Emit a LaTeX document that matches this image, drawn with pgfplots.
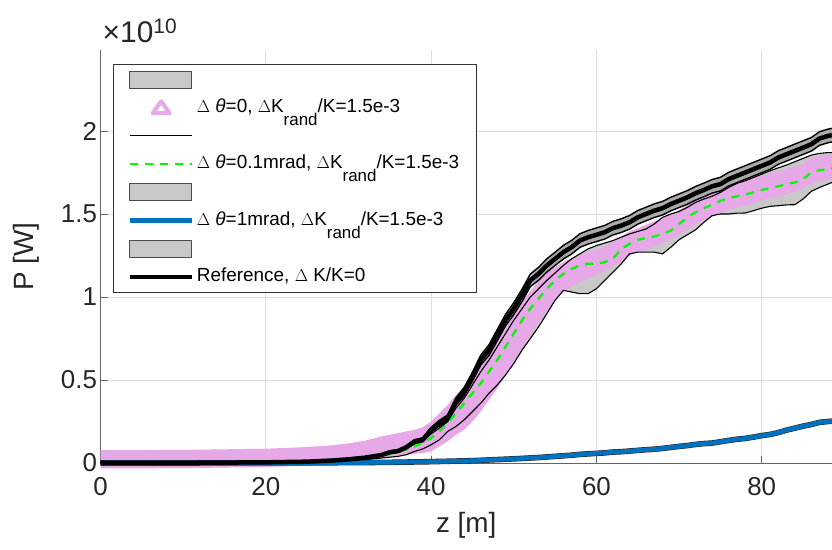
\documentclass[border=0pt]{standalone}
\usepackage{fontspec}
\setmainfont{Liberation Sans}
\usepackage{pgfplots}
\pgfplotsset{compat=1.18}
\usepackage{pgfplotstable}
\usepgfplotslibrary{fillbetween}

\definecolor{pinkc}{RGB}{230,168,230}
\definecolor{greenc}{RGB}{0,250,0}
\definecolor{bluec}{RGB}{0,114,189}
\definecolor{bandgray}{RGB}{200,200,200}
\definecolor{gridc}{RGB}{222,222,222}
\definecolor{axisc}{RGB}{100,100,100}

\pgfplotsset{
  rectleg/.style={legend image code/.code={\draw[##1] (0bp,-8.5bp) rectangle (62bp,8.5bp);}},
  lineleg/.style={legend image code/.code={\draw[##1] (0bp,0bp) -- (62bp,0bp);}},
  trileg/.style={legend image code/.code={\draw[##1] (23bp,-5.5bp) -- (40bp,-5.5bp) -- (31.5bp,6.5bp) -- cycle;}},
}
\newcommand{\rand}{\raisebox{-13bp}{\fontsize{17}{17}\selectfont rand}}

% power in units of 1e10 W
% R: reference (RU/RL its band), U/L: band edges (0.1 mrad), M: its mean,
% PU/PL: extent of the dtheta=0 markers
\pgfplotstableread{
z    R     RU    RL    U     M     L      PU    PL
0    0     0     0     0.002 0     -0.002 0.077 -0.033
10   0.001 0.001 0.001 0.003 0.001 -0.001 0.079 -0.031
20   0.004 0.005 0.003 0.006 0.004 0.001  0.086 -0.024
25   0.008 0.010 0.006 0.010 0.008 0.004  0.096 -0.016
28   0.015 0.017 0.013 0.016 0.012 0.007  0.107 -0.007
30   0.022 0.025 0.019 0.022 0.020 0.012  0.118 0.002
32   0.032 0.036 0.028 0.030 0.030 0.020  0.135 0.016
34   0.048 0.053 0.043 0.045 0.045 0.030  0.160 0.035
35   0.065 0.071 0.059 0.058 0.055 0.035  0.170 0.040
36   0.072 0.079 0.065 0.068 0.065 0.040  0.180 0.045
37   0.095 0.103 0.087 0.085 0.080 0.050  0.190 0.050
38   0.130 0.140 0.120 0.115 0.100 0.070  0.200 0.055
39   0.140 0.152 0.128 0.130 0.120 0.085  0.215 0.060
40   0.200 0.215 0.185 0.175 0.150 0.110  0.250 0.070
41   0.240 0.257 0.223 0.210 0.190 0.140  0.300 0.100
42   0.270 0.290 0.250 0.250 0.240 0.190  0.350 0.130
43   0.370 0.392 0.348 0.330 0.300 0.220  0.410 0.170
44   0.430 0.455 0.405 0.390 0.360 0.260  0.460 0.200
45   0.520 0.547 0.493 0.470 0.420 0.310  0.530 0.250
46   0.620 0.650 0.590 0.550 0.480 0.360  0.590 0.310
47   0.680 0.712 0.648 0.620 0.550 0.420  0.660 0.380
48   0.770 0.804 0.736 0.700 0.620 0.470  0.730 0.450
49   0.860 0.895 0.825 0.780 0.700 0.530  0.810 0.530
50   0.930 0.966 0.894 0.860 0.780 0.600  0.890 0.610
51   1.010 1.047 0.973 0.930 0.860 0.680  0.970 0.690
52   1.100 1.138 1.062 1.000 0.930 0.750  1.035 0.765
53   1.140 1.179 1.101 1.050 0.990 0.820  1.095 0.845
54   1.190 1.230 1.150 1.100 1.050 0.900  1.145 0.915
55   1.230 1.270 1.190 1.145 1.100 0.980  1.180 0.980
56   1.270 1.311 1.229 1.190 1.140 1.040  1.210 1.030
57   1.300 1.341 1.259 1.230 1.170 1.030  1.235 1.065
58   1.340 1.381 1.299 1.260 1.190 1.020  1.250 1.090
59   1.360 1.401 1.319 1.290 1.200 1.020  1.270 1.110
60   1.375 1.416 1.334 1.310 1.200 1.050  1.285 1.135
61   1.390 1.431 1.349 1.325 1.210 1.100  1.305 1.155
62   1.415 1.456 1.374 1.340 1.230 1.150  1.335 1.185
63   1.430 1.471 1.389 1.360 1.290 1.200  1.365 1.215
64   1.450 1.491 1.409 1.380 1.320 1.260  1.395 1.250
65   1.480 1.521 1.439 1.395 1.345 1.270  1.415 1.270
66   1.500 1.541 1.459 1.410 1.355 1.270  1.435 1.285
67   1.520 1.561 1.479 1.440 1.365 1.270  1.455 1.305
68   1.535 1.576 1.494 1.480 1.380 1.260  1.475 1.325
69   1.560 1.601 1.519 1.500 1.400 1.300  1.495 1.345
70   1.580 1.621 1.539 1.515 1.440 1.345  1.525 1.375
71   1.600 1.641 1.559 1.540 1.480 1.375  1.555 1.405
72   1.625 1.666 1.584 1.570 1.510 1.405  1.585 1.435
73   1.645 1.686 1.604 1.590 1.535 1.450  1.610 1.460
74   1.667 1.708 1.626 1.607 1.556 1.490  1.635 1.485
75   1.680 1.721 1.639 1.630 1.580 1.500  1.655 1.505
76   1.710 1.751 1.669 1.660 1.595 1.500  1.675 1.525
77   1.730 1.771 1.689 1.685 1.607 1.505  1.690 1.540
78   1.750 1.791 1.709 1.700 1.617 1.506  1.700 1.550
79   1.770 1.811 1.729 1.720 1.630 1.520  1.715 1.565
80   1.790 1.831 1.749 1.740 1.645 1.535  1.730 1.580
81   1.810 1.851 1.769 1.760 1.655 1.546  1.745 1.595
82   1.840 1.881 1.799 1.778 1.667 1.550  1.755 1.605
83   1.860 1.901 1.819 1.795 1.680 1.555  1.770 1.620
84   1.880 1.921 1.839 1.815 1.690 1.556  1.785 1.635
85   1.900 1.941 1.859 1.835 1.710 1.590  1.805 1.655
86   1.920 1.961 1.879 1.855 1.750 1.637  1.835 1.685
87   1.955 1.996 1.914 1.865 1.765 1.660  1.850 1.700
88   1.970 2.011 1.929 1.870 1.770 1.680  1.855 1.705
88.5 1.975 2.016 1.934 1.870 1.775 1.690  1.860 1.710
}\runs

% dtheta = 1 mrad
\pgfplotstableread{
z    B
0    0
20   0.0005
30   0.002
35   0.004
40   0.008
45   0.014
50   0.025
53   0.033
55   0.040
57   0.047
58   0.052
60   0.058
61   0.061
62   0.066
63   0.068
64   0.072
65   0.076
66   0.080
67   0.083
68   0.088
69   0.094
70   0.100
71   0.105
72   0.112
73   0.117
74   0.120
75   0.128
76   0.136
77   0.143
78   0.148
79   0.156
80   0.165
81   0.172
82   0.183
83   0.198
84   0.210
85   0.222
86   0.232
87   0.245
88   0.250
88.5 0.252
}\bluerun

\begin{document}
\begin{tikzpicture}
\begin{axis}[
  scale only axis, width=731.5bp, height=413bp,
  xmin=0, xmax=88.5, ymin=0, ymax=2.488,
  axis x line*=bottom, axis y line*=left,
  axis line style={axisc, line width=0.8bp},
  xtick={0,20,40,60,80},
  ytick={0,0.5,1,1.5,2}, yticklabels={0,0.5,1,1.5,2},
  tick align=inside, major tick length=7bp,
  tick style={axisc, line width=0.8bp},
  grid=major, major grid style={gridc, line width=0.8bp},
  tick label style={font=\fontsize{26}{30}\selectfont, color=black!85},
  xticklabel style={yshift=-11bp},
  /pgf/number format/assume math mode=true,
  xlabel={z [m]}, ylabel={P [W]},
  label style={font=\fontsize{28}{32}\selectfont, color=black!85},
  xlabel style={at={(axis description cs:0.5,-0.150)}, anchor=center},
  ylabel style={at={(axis description cs:-0.1018,0.5)}, anchor=center},
  clip=false,
  every axis plot/.append style={line join=round},
  legend style={at={(0.0171,0.966)}, anchor=north west,
    draw=black!80, line width=0.8bp, fill=white,
    inner xsep=14bp, inner ysep=1bp, column sep=0bp,
    font=\fontsize{19}{23}\selectfont,
    nodes={text height=15bp, text depth=6bp, inner ysep=3.6bp, inner xsep=3bp}},
  legend cell align=left,
]
% band of the 0.1 mrad runs
\addplot[draw=none, name path=upper, forget plot] table[x=z, y=U] {\runs};
\addplot[draw=none, name path=lower, forget plot] table[x=z, y=L] {\runs};
\addplot[bandgray, forget plot] fill between[of=upper and lower];
% dtheta = 0 (dense triangle markers)
\addplot[draw=none, name path=pup, forget plot] table[x=z, y=PU] {\runs};
\addplot[draw=none, name path=plo, forget plot] table[x=z, y=PL] {\runs};
\addplot[pinkc, forget plot] fill between[of=pup and plo];
\addplot[black, line width=1.1bp, forget plot] table[x=z, y=U] {\runs};
\addplot[black, line width=1.1bp, forget plot] table[x=z, y=L] {\runs};
\addplot[greenc, line width=2.2bp, dash pattern=on 8bp off 7bp, forget plot] table[x=z, y=M] {\runs};
% 1 mrad
\addplot[black!85, line width=5.6bp, forget plot] table[x=z, y=B] {\bluerun};
\addplot[bluec, line width=4.5bp, forget plot] table[x=z, y=B] {\bluerun};
% reference and its band
\addplot[draw=none, name path=rup, forget plot] table[x=z, y=RU] {\runs};
\addplot[draw=none, name path=rlo, forget plot] table[x=z, y=RL] {\runs};
\addplot[bandgray!85!black, forget plot] fill between[of=rup and rlo];
\addplot[black, line width=1.4bp, forget plot] table[x=z, y=RU] {\runs};
\addplot[black, line width=1.4bp, forget plot] table[x=z, y=RL] {\runs};
\addplot[black, line width=4.5bp, forget plot] table[x=z, y=R] {\runs};

\addlegendimage{rectleg, fill=bandgray, draw=black!70, line width=0.8bp}
\addlegendentry{\mbox{}}
\addlegendimage{trileg, draw=pinkc, line width=4bp}
\addlegendentry{$\Delta$ \textit{θ}=0, $\Delta$K\rand/K=1.5e-3}
\addlegendimage{lineleg, black, line width=0.9bp}
\addlegendentry{\mbox{}}
\addlegendimage{lineleg, greenc, line width=2.2bp, dash pattern=on 8bp off 7bp}
\addlegendentry{$\Delta$ \textit{θ}=0.1mrad, $\Delta$K\rand/K=1.5e-3}
\addlegendimage{rectleg, fill=bandgray, draw=black!70, line width=0.8bp}
\addlegendentry{\mbox{}}
\addlegendimage{lineleg, bluec, line width=4.5bp}
\addlegendentry{$\Delta$ \textit{θ}=1mrad, $\Delta$K\rand/K=1.5e-3}
\addlegendimage{rectleg, fill=bandgray, draw=black!70, line width=0.8bp}
\addlegendentry{\mbox{}}
\addlegendimage{lineleg, black, line width=4.5bp}
\addlegendentry{Reference, $\Delta$ K/K=0}

\node[anchor=base west, font=\fontsize{30}{34}\selectfont, color=black!85, inner sep=0pt]
  at ([xshift=2bp, yshift=7bp]rel axis cs:0,1) {×10\textsuperscript{10}};
\end{axis}
\pgfresetboundingbox
\path[use as bounding box] ([xshift=-100.5bp, yshift=-87bp]current axis.south west)
  rectangle ([yshift=50bp]current axis.north east);
\end{tikzpicture}
\end{document}
